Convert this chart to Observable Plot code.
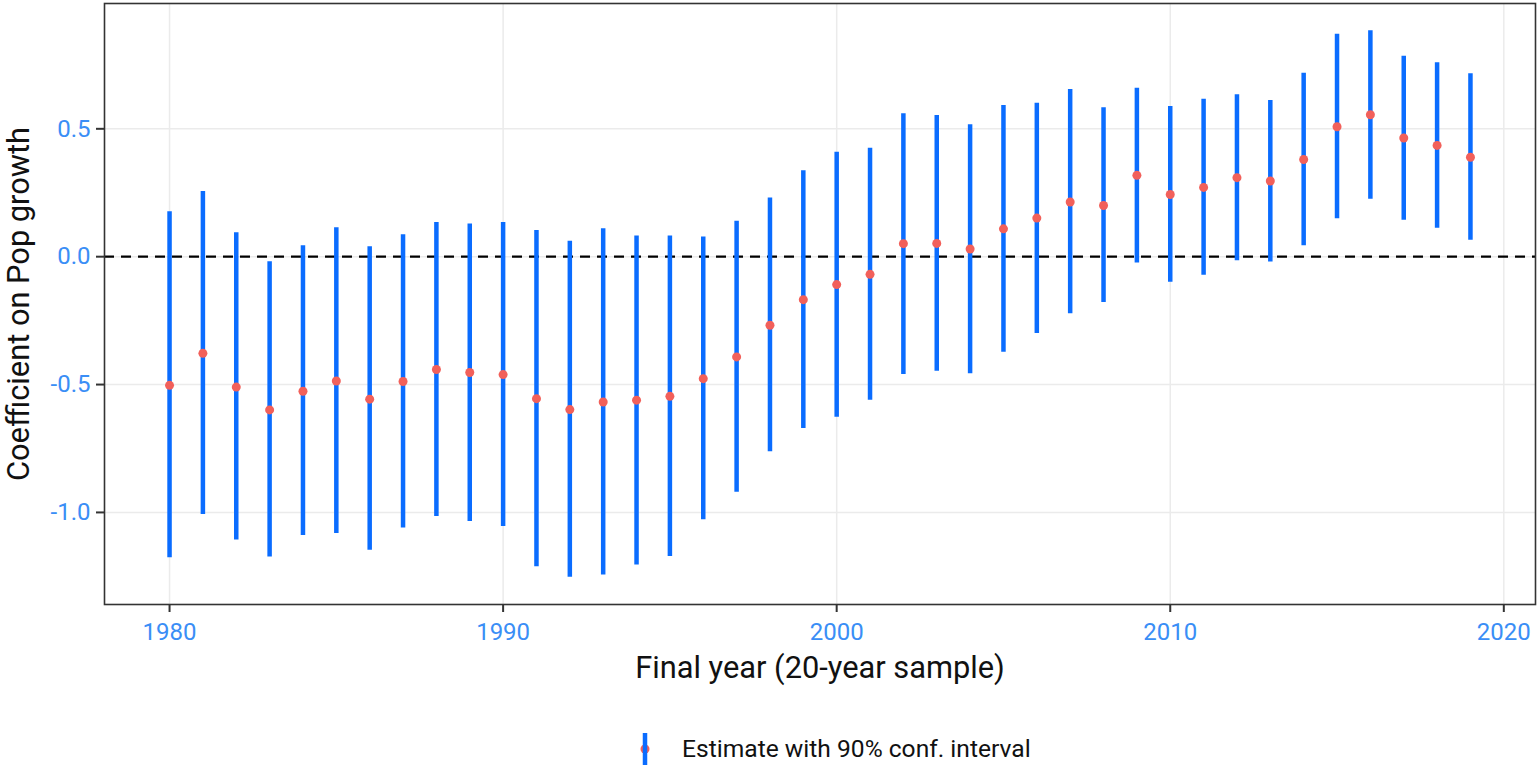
<!DOCTYPE html>
<html>
<head>
<meta charset="utf-8">
<script src="https://cdn.jsdelivr.net/npm/d3@7"></script>
<script src="https://cdn.jsdelivr.net/npm/@observablehq/plot@0.6"></script>
<style>
  html, body { margin: 0; padding: 0; background: #fff; }
  #fig { position: relative; width: 1539px; height: 770px; font-family: Roboto, "Noto Sans", sans-serif; }
  #legend { position: absolute; left: 0; top: 700px; width: 1539px; height: 70px; }
  #legend .key { position: absolute; left: 636px; top: 31px; }
  #legend .lab { position: absolute; left: 682px; top: 33px; font-size: 24.6px; line-height: 32px; color: #111; }
</style>
</head>
<body>
<div id="fig">
  <div id="chart"></div>
  <div id="legend"></div>
</div>
<script>
const years = [1980,1981,1982,1983,1984,1985,1986,1987,1988,1989,1990,1991,1992,1993,1994,1995,1996,1997,1998,1999,
               2000,2001,2002,2003,2004,2005,2006,2007,2008,2009,2010,2011,2012,2013,2014,2015,2016,2017,2018,2019];
const estimate = [-0.503,-0.378,-0.510,-0.599,-0.526,-0.486,-0.557,-0.488,-0.441,-0.453,-0.461,-0.555,-0.598,-0.568,-0.561,-0.546,-0.477,-0.392,-0.268,-0.168,
                  -0.109,-0.069,0.051,0.052,0.030,0.109,0.151,0.214,0.200,0.318,0.243,0.271,0.309,0.296,0.380,0.508,0.555,0.464,0.435,0.389];
const lower = [-1.177,-1.008,-1.108,-1.174,-1.090,-1.082,-1.148,-1.061,-1.016,-1.035,-1.055,-1.212,-1.253,-1.245,-1.206,-1.172,-1.029,-0.921,-0.763,-0.672,
               -0.628,-0.561,-0.461,-0.448,-0.458,-0.374,-0.300,-0.223,-0.179,-0.025,-0.100,-0.073,-0.016,-0.021,0.043,0.148,0.225,0.142,0.111,0.064];
const upper = [0.176,0.255,0.094,-0.020,0.043,0.113,0.039,0.086,0.134,0.128,0.134,0.102,0.060,0.109,0.081,0.081,0.077,0.139,0.229,0.336,
               0.408,0.424,0.559,0.552,0.516,0.591,0.600,0.654,0.582,0.659,0.587,0.616,0.633,0.611,0.717,0.870,0.883,0.784,0.758,0.715];
const xTicks = [1980, 1990, 2000, 2010, 2020];
const yTicks = [-1.0, -0.5, 0.0, 0.5];
const xTitle = "Final year (20-year sample)";
const yTitle = "Coefficient on Pop growth";
const legendLabel = "Estimate with 90% conf. interval";

const barColor = "#0a6cff";
const dotColor = "#f2605a";
const tickColor = "#3a8ef6";

const rows = years.map((y, i) => ({year: y, est: estimate[i], lo: lower[i], hi: upper[i]}));

const chart = Plot.plot({
  width: 1539,
  height: 700,
  marginLeft: 104,
  marginRight: 4,
  marginTop: 3,
  marginBottom: 96,
  style: {fontFamily: "Roboto, 'Noto Sans', sans-serif", background: "#fff"},
  x: {domain: [1978.05, 2020.95]},
  y: {domain: [-1.36, 0.99]},
  marks: [
    Plot.gridX(xTicks, {stroke: "#ebebeb", strokeOpacity: 1, strokeWidth: 1.5}),
    Plot.gridY(yTicks, {stroke: "#ebebeb", strokeOpacity: 1, strokeWidth: 1.5}),
    Plot.ruleY([0], {stroke: "#000", strokeWidth: 2.2, strokeDasharray: "10,7"}),
    Plot.ruleX(rows, {x: "year", y1: "lo", y2: "hi", stroke: barColor, strokeWidth: 4.5}),
    Plot.dot(rows, {x: "year", y: "est", r: 4.5, fill: dotColor, stroke: "none"}),
    Plot.frame({stroke: "#333", strokeWidth: 1.6}),
    Plot.axisX(xTicks, {tickSize: 8, tickPadding: 10, fontSize: 24, fill: tickColor, stroke: "#333", strokeWidth: 2, tickFormat: d => String(d), label: null}),
    Plot.axisY(yTicks, {tickSize: 8, tickPadding: 6, fontSize: 24, fill: tickColor, stroke: "#333", strokeWidth: 2, tickFormat: d => d.toFixed(1), label: null}),
    Plot.text([xTitle], {text: d => d, frameAnchor: "bottom", textAnchor: "middle", dy: 73, fontSize: 30.8, fill: "#111"}),
    Plot.text([yTitle], {text: d => d, frameAnchor: "left", textAnchor: "middle", dx: -85, rotate: -90, fontSize: 30.8, fill: "#111"})
  ]
});
document.getElementById("chart").appendChild(chart);

// legend
const legend = document.getElementById("legend");
const ns = "http://www.w3.org/2000/svg";
const key = document.createElementNS(ns, "svg");
key.setAttribute("width", 18); key.setAttribute("height", 36); key.setAttribute("class", "key");
const ln = document.createElementNS(ns, "line");
ln.setAttribute("x1", 9); ln.setAttribute("x2", 9); ln.setAttribute("y1", 2); ln.setAttribute("y2", 34);
ln.setAttribute("stroke", barColor); ln.setAttribute("stroke-width", 4.5);
const c = document.createElementNS(ns, "circle");
c.setAttribute("cx", 9); c.setAttribute("cy", 18); c.setAttribute("r", 4.5); c.setAttribute("fill", dotColor);
key.appendChild(c); key.appendChild(ln);
legend.appendChild(key);
const lab = document.createElement("div");
lab.className = "lab"; lab.textContent = legendLabel;
legend.appendChild(lab);
</script>
</body>
</html>
